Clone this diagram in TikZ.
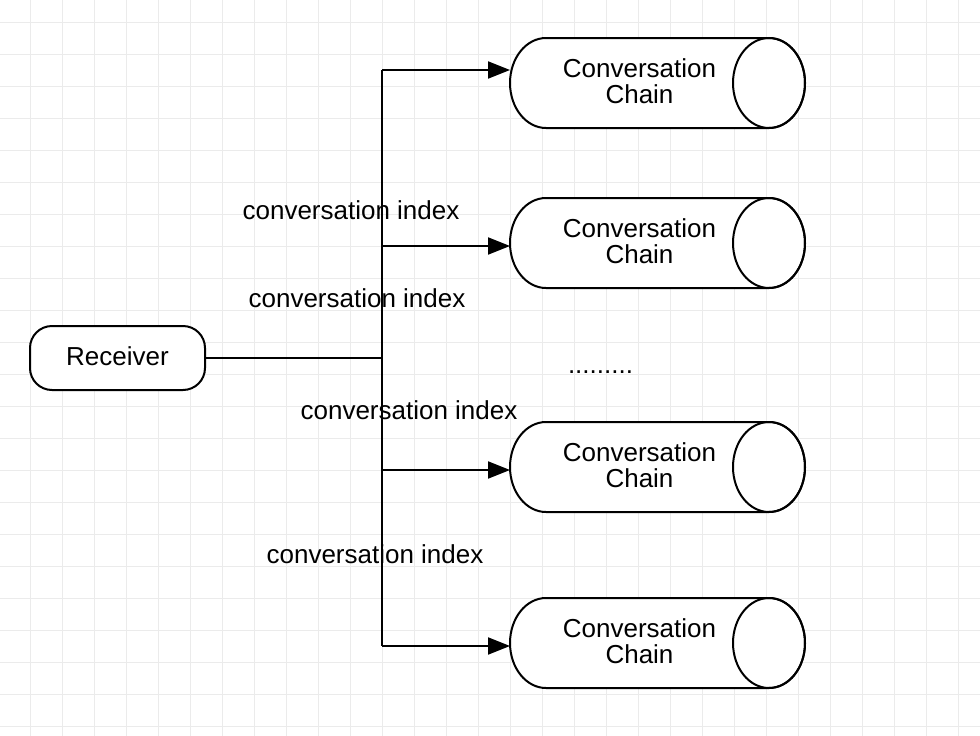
\documentclass[tikz,border=0pt]{standalone}
\usepackage{fontspec}
\setmainfont{Liberation Sans}
\usetikzlibrary{arrows.meta}
\definecolor{gridc}{RGB}{235,235,235}
\begin{document}
\begin{tikzpicture}[x=1pt,y=-1pt,
  txt/.style={font=\fontsize{26}{26}\selectfont, inner sep=0pt},
  lbl/.style={txt, anchor=base},
  shapeline/.style={draw=black, line width=2pt, fill=white},
  wire/.style={line width=2pt, draw=black},
  conn/.style={wire, -{Triangle[length=22pt,width=17pt]}},
  gridline/.style={draw=gridc, line width=1pt}]
\useasboundingbox (0,0) rectangle (980,736);
\fill[white] (0,0) rectangle (980,736);
% grid
\foreach \x in {30,62,...,990} \draw[gridline] (\x,0) -- (\x,736);
\foreach \y in {22,54,...,736} \draw[gridline] (0,\y) -- (980,\y);

% receiver
\node[shapeline, rounded corners=22pt, minimum width=175pt, minimum height=64pt,
      txt, text depth=3.6pt] (recv) at (117.5,358) {Receiver};

% cylinders
\foreach \n/\c in {1/83,2/243,3/467,4/643}{
  \draw[shapeline] (769,\c-45) -- (546,\c-45)
     arc[start angle=90, end angle=270, x radius=36pt, y radius=45pt]
     -- (769,\c+45) arc[start angle=-90, end angle=90, x radius=36pt, y radius=45pt] -- cycle;
  \draw[wire] (769,\c) ellipse [x radius=36pt, y radius=45pt];
  \node[txt, align=center] (chain\n) at (639.5,\c-1.5) {Conversation\\Chain};
}
\coordinate (in1) at (510,70);
\coordinate (in2) at (510,246);
\coordinate (in3) at (510,470);
\coordinate (in4) at (510,646);

% connectors
\coordinate (jn) at (382,358);
\coordinate (b1) at (382,70);
\coordinate (b2) at (382,246);
\coordinate (b3) at (382,470);
\coordinate (b4) at (382,646);
\draw[wire] (recv.east) -- (jn);
\draw[wire] (b1) -- (b4);
\draw[conn] (b1) -- (in1);
\draw[conn] (b2) -- (in2);
\draw[conn] (b3) -- (in3);
\draw[conn] (b4) -- (in4);

% labels
\node[lbl] (l1) at (351,219) {conversation index};
\node[lbl] (l2) at (357,307) {conversation index};
\node[lbl] (l3) at (409,419) {conversation index};
\node[lbl] (l4) at (375,563) {conversation index};
\node[lbl] (dots) at (600.5,373) {.........};
\end{tikzpicture}
\end{document}
